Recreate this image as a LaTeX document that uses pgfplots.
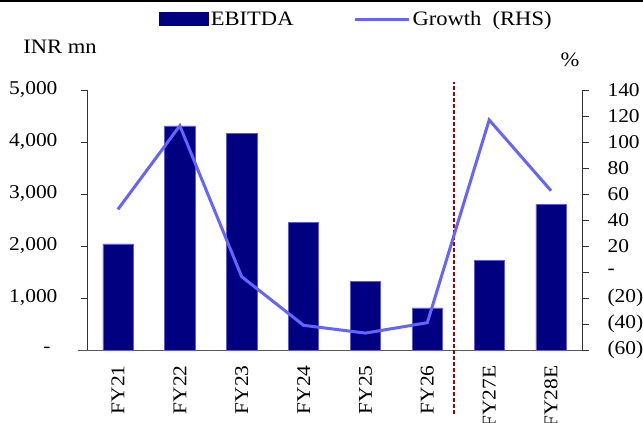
\documentclass[border=0pt]{standalone}
\usepackage{fontspec}
\setmainfont{Liberation Serif}[FakeStretch=1.1]
\usepackage{pgfplots}
\pgfplotsset{compat=1.18}
\definecolor{barnavy}{RGB}{0,0,128}
\definecolor{baredge}{RGB}{90,90,220}
\definecolor{growth}{RGB}{100,100,255}
\definecolor{divred}{RGB}{160,0,0}
\newcommand{\lblfont}{\fontsize{19.5}{22}\selectfont}
\newcommand{\bigfont}{\fontsize{20.5}{24}\selectfont}
\pgfplotsset{
  barlegend/.style={legend image code/.code={\fill[barnavy] (0pt,-6.5pt) rectangle (49pt,6.5pt);}},
  linelegend/.style={legend image code/.code={\draw[growth, line width=3pt] (0pt,0pt) -- (54pt,0pt);}},
}
\begin{document}
\begin{tikzpicture}
\useasboundingbox (0pt,0pt) rectangle (643pt,423pt);
\fill[black] (0pt,421pt) rectangle (643pt,423pt);
\begin{axis}[
  at={(87pt,73pt)}, anchor=south west,
  scale only axis, width=495pt, height=260pt,
  xmin=-0.5, xmax=7.5, ymin=0, ymax=5000,
  axis y line*=left, axis x line*=bottom,
  axis line style={-, black!80, line width=0.8pt},
  x axis line style={shorten <=-9pt, shorten >=-6pt, black!65},
  xtick={0,...,7},
  xticklabels={FY21,FY22,FY23,FY24,FY25,FY26,FY27E,FY28E},
  x tick style={draw=none},
  xticklabel style={rotate=90, anchor=east, font=\lblfont, xshift=-6pt},
  ytick={0,1000,...,5000},
  yticklabels={{-\rule{7pt}{0pt}},{1,000},{2,000},{3,000},{4,000},{5,000}},
  tick align=outside, major tick length=6pt,
  y tick style={black!80, line width=0.8pt},
  yticklabel style={font=\lblfont, xshift=-20pt},
  clip=false,
  legend style={at={(0.5,1)}, anchor=center, xshift=22pt, yshift=71pt,
    draw=none, fill=none, font=\bigfont,
    /tikz/every even column/.append style={column sep=58pt}},
  legend columns=2, legend cell align=left,
]
\addplot[ybar, bar width=0.49, fill=barnavy, draw=baredge, line width=0.5pt, barlegend]
  coordinates {(0,2040) (1,4310) (2,4170) (3,2460) (4,1325) (5,810) (6,1717) (7,2802)};
\addlegendentry{EBITDA}
\addlegendimage{linelegend}
\addlegendentry{Growth~ (RHS)}
\addplot[divred, line width=2pt, dash pattern=on 4pt off 2pt, forget plot]
  coordinates {(5.43,-1231) (5.43,5154)};
\end{axis}
\begin{axis}[
  at={(87pt,73pt)}, anchor=south west,
  scale only axis, width=495pt, height=260pt,
  xmin=-0.5, xmax=7.5, ymin=-60, ymax=140,
  axis x line=none, axis y line*=right,
  axis line style={-, black!80, line width=0.8pt},
  ytick={-60,-40,...,140},
  yticklabels={(60),(40),(20),-,20,40,60,80,100,120,140},
  tick align=outside, major tick length=7pt,
  y tick style={black!80, line width=0.8pt},
  yticklabel style={font=\lblfont, anchor=west, xshift=15pt},
]
\addplot[growth, line width=3pt]
  coordinates {(0,48.2) (1,112.5) (2,-3.6) (3,-41) (4,-47) (5,-39) (6,117) (7,62.5)};
\end{axis}
\node[font=\bigfont] at (60pt,376pt) {INR mn};
\node[font=\bigfont] at (570pt,363pt) {\%};
\end{tikzpicture}
\end{document}
